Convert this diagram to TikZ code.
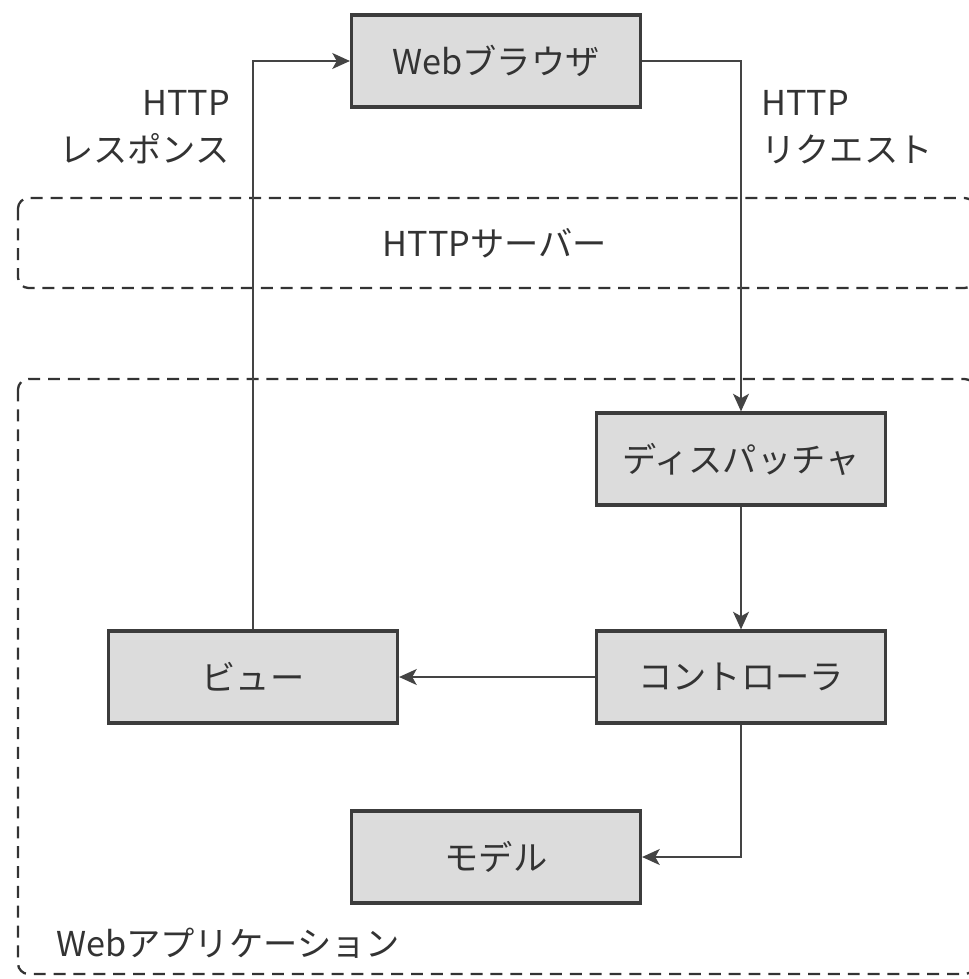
\documentclass[tikz,border=0pt]{standalone}
\usepackage{fontspec}
\setmainfont{Noto Sans CJK JP}
\usetikzlibrary{arrows.meta,positioning}
\definecolor{Ink}{HTML}{333333}
\definecolor{Frame}{HTML}{3C3C3C}
\definecolor{Wire}{HTML}{444444}
\definecolor{Box}{HTML}{DCDCDC}

\begin{document}
\begin{tikzpicture}[x=0.02cm, y=-0.02cm,
  every node/.style={font=\fontsize{19.5}{27}\selectfont, text=Ink},
  block/.style={draw=Frame, fill=Box, line width=1.8pt, minimum width=5.78cm, minimum height=1.84cm, inner sep=0pt},
  zone/.style={draw=Ink, line width=1.3pt, dash pattern=on 6.8pt off 4.5pt, rounded corners=6pt},
  flow/.style={draw=Wire, line width=1.4pt, -{Stealth[length=10pt, width=9pt, inset=2.5pt]}}]
  \useasboundingbox (0,0) rectangle (968,979);
  % dashed areas
  \draw[zone] (18,198) rectangle (975,288);
  \draw[zone] (18,379) rectangle (975,974);
  \node (server) at (495,243) {HTTPサーバー};
  \node[anchor=west] (app) at (50,943) {Webアプリケーション};
  % boxes
  \node[block] (browser) at (496,61) {Webブラウザ};
  \node[block] (disp) at (741,459) {ディスパッチャ};
  \node[block] (ctrl) at (741,677) {コントローラ};
  \node[block] (view) at (253,677) {ビュー};
  \node[block] (model) at (496,857) {モデル};
  % labels
  \node[align=right, anchor=north east] (resp) at (236,84) {HTTP\\レスポンス};
  \node[align=left, anchor=north west] (req) at (755,84) {HTTP\\リクエスト};
  % connectors
  \draw[flow] (browser.east) -| (disp.north);
  \draw[flow] (view.north) |- (browser.west);
  \draw[flow] (disp) -- (ctrl);
  \draw[flow] (ctrl) -- (view);
  \draw[flow] (ctrl.south) |- (model.east);
\end{tikzpicture}
\end{document}
